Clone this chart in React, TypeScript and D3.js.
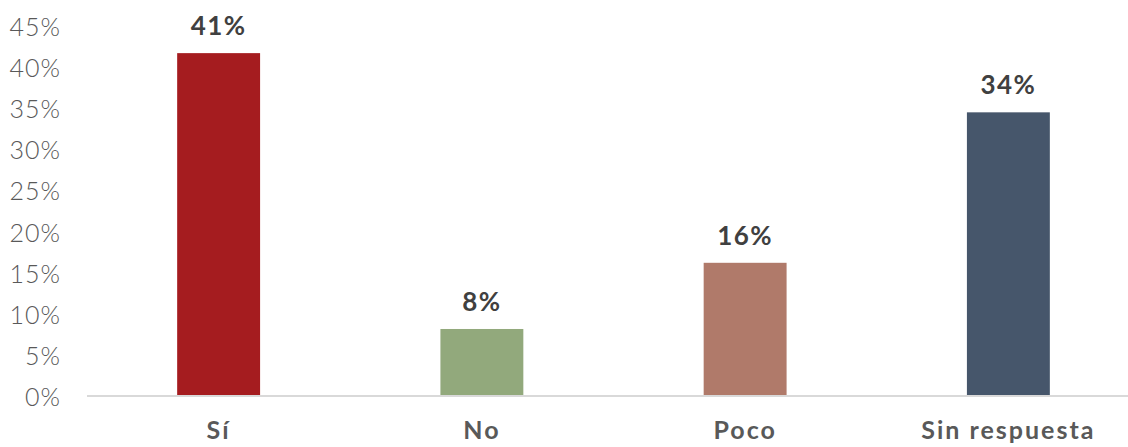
import React from "react";
import * as d3 from "d3";

const categories = ["Sí", "No", "Poco", "Sin respuesta"];
const values = [41.7, 8.15, 16.2, 34.5];
const valueLabels = ["41%", "8%", "16%", "34%"];
const colors = ["#A51C1F", "#92A97C", "#B07A6A", "#46566B"];
const yTicks = [0, 5, 10, 15, 20, 25, 30, 35, 40, 45];

const W = 1128;
const H = 447;
const FONT = "'Century Gothic', 'Lato', 'Noto Sans', sans-serif";

export default function App() {
  const x = d3
    .scaleBand<string>()
    .domain(categories)
    .range([87, 1140])
    .paddingInner(0.685)
    .paddingOuter(0.3425);
  const y = d3.scaleLinear().domain([0, 45]).range([396, 26]);

  return (
    <svg
      width={W}
      height={H}
      style={{ position: "absolute", left: 0, top: 0, display: "block", background: "#fff" }}
    >
      {yTicks.map((t) => (
        <text
          key={t}
          x={61}
          y={y(t)}
          textAnchor="end"
          dominantBaseline="central"
          fontFamily={FONT}
          fontWeight={300}
          fontSize={25}
          letterSpacing={1}
          fill="#595959"
        >
          {t}%
        </text>
      ))}
      {categories.map((c, i) => (
        <g key={c}>
          <rect
            x={x(c)}
            y={y(values[i])}
            width={x.bandwidth()}
            height={y(0) - y(values[i])}
            fill={colors[i]}
          />
          <text
            x={(x(c) as number) + x.bandwidth() / 2}
            y={y(values[i]) - 18}
            textAnchor="middle"
            fontFamily={FONT}
            fontWeight={700}
            fontSize={26}
            letterSpacing={1.5}
            fill="#404040"
          >
            {valueLabels[i]}
          </text>
          <text
            x={(x(c) as number) + x.bandwidth() / 2}
            y={439}
            textAnchor="middle"
            fontFamily={FONT}
            fontWeight={700}
            fontSize={25}
            letterSpacing={2}
            fill="#595959"
          >
            {c}
          </text>
        </g>
      ))}
      <line x1={87} x2={W} y1={y(0)} y2={y(0)} stroke="#D9D9D9" strokeWidth={2} />
    </svg>
  );
}
